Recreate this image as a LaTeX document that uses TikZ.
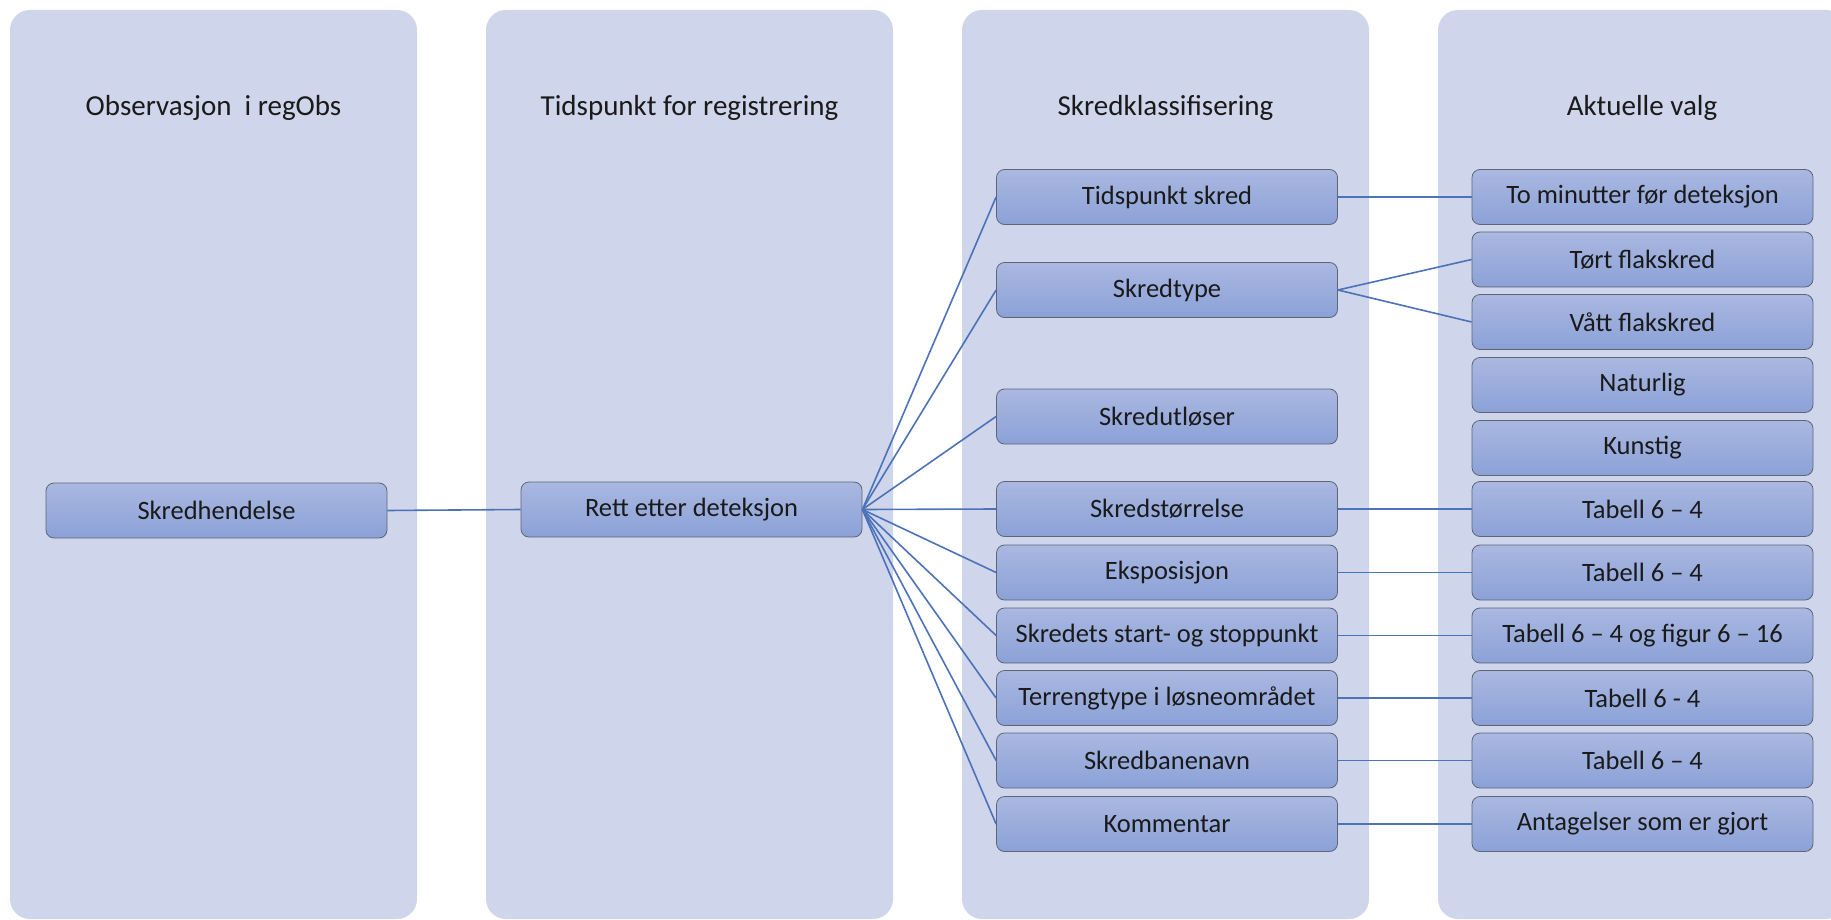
\documentclass[tikz,border=0pt]{standalone}
\usepackage{fontspec}
\setmainfont{Carlito}
\definecolor{colbg}{HTML}{CFD5EA}
\definecolor{boxtop}{HTML}{AAB8E1}
\definecolor{boxbot}{HTML}{8BA1D7}
\definecolor{boxline}{HTML}{5E6675}
\definecolor{conn}{HTML}{4C72B9}
\definecolor{txt}{HTML}{1A1A1A}
\begin{document}
\begin{tikzpicture}[x=1pt,y=-1pt,
  lane/.style={fill=colbg, draw=none, rounded corners=20pt},
  head/.style={font=\fontsize{29}{34}\selectfont, text=txt, anchor=center},
  item/.style={draw=boxline, line width=0.8pt, rounded corners=8pt,
    top color=boxtop, bottom color=boxbot, minimum width=341pt, minimum height=55pt,
    inner sep=0pt, font=\fontsize{26.5}{30}\selectfont, text=txt},
  link/.style={draw=conn, line width=1.6pt}]
\useasboundingbox (0,0) rectangle (1831,920);
\begin{scope}
\clip (0,0) rectangle (1831,920);
\fill[lane] (10,10) rectangle (417,919);
\fill[lane] (486,10) rectangle (893,919);
\fill[lane] (962,10) rectangle (1369,919);
\fill[lane] (1438,10) rectangle (1846,919);
\end{scope}
\node[head] (h1) at (213.5,108) {Observasjon\ \ i regObs};
\node[head] (h2) at (689.5,108) {Tidspunkt for registrering};
\node[head] (h3) at (1165.5,108) {Skredklassifisering};
\node[head] (h4) at (1642,108) {Aktuelle valg};
% column 1 and 2
\node[item] (obs) at (216.5,510.5) {Skredhendelse};
\node[item] (rett) at (691.5,509.5) {Rett etter deteksjon};
% column 3
\node[item] (tid) at (1167,197) {Tidspunkt skred};
\node[item] (type) at (1167,290) {Skredtype};
\node[item] (utl) at (1167,416.5) {Skredutløser};
\node[item] (str) at (1167,509) {Skredstørrelse};
\node[item] (eks) at (1167,572.5) {Eksposisjon};
\node[item] (start) at (1167,635.5) {Skredets start- og stoppunkt};
\node[item] (terr) at (1167,698) {Terrengtype i løsneområdet};
\node[item] (bane) at (1167,760.5) {Skredbanenavn};
\node[item] (kom) at (1167,824) {Kommentar};
% column 4
\node[item] (min) at (1642.5,197) {To minutter før deteksjon};
\node[item] (tort) at (1642.5,259.5) {Tørt flakskred};
\node[item] (vatt) at (1642.5,322) {Vått flakskred};
\node[item] (nat) at (1642.5,385) {Naturlig};
\node[item] (kun) at (1642.5,448) {Kunstig};
\node[item] (t1) at (1642.5,509) {Tabell 6 – 4};
\node[item] (t2) at (1642.5,572.5) {Tabell 6 – 4};
\node[item] (t3) at (1642.5,635.5) {Tabell 6 – 4 og figur 6 – 16};
\node[item] (t4) at (1642.5,698) {Tabell 6 - 4};
\node[item] (t5) at (1642.5,760.5) {Tabell 6 – 4};
\node[item] (ant) at (1642.5,824) {Antagelser som er gjort};
% connectors
\draw[link] (obs.east) -- (rett.west);
\foreach \n in {tid,type,utl,str,eks,start,terr,bane,kom}
  \draw[link] (rett.east) -- (\n.west);
\draw[link] (tid.east) -- (min.west);
\draw[link] (type.east) -- (tort.west);
\draw[link] (type.east) -- (vatt.west);
\draw[link] (str.east) -- (t1.west);
\draw[link] (eks.east) -- (t2.west);
\draw[link] (start.east) -- (t3.west);
\draw[link] (terr.east) -- (t4.west);
\draw[link] (bane.east) -- (t5.west);
\draw[link] (kom.east) -- (ant.west);
\end{tikzpicture}
\end{document}
